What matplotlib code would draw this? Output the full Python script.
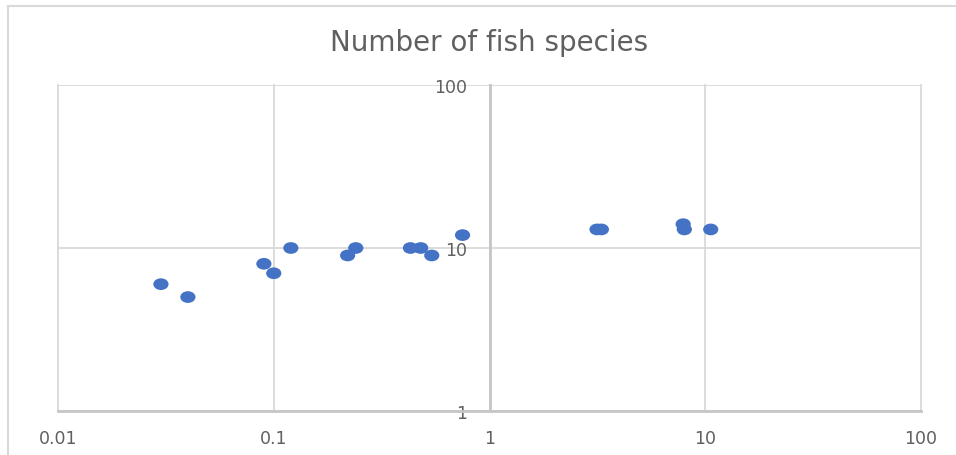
import numpy as np
import matplotlib.pyplot as plt
from matplotlib.path import Path
from matplotlib.lines import Line2D

# data (log-log scatter)
area = [0.03, 0.04, 0.09, 0.1, 0.12, 0.22, 0.24, 0.43, 0.48, 0.54, 0.75,
        3.15, 3.3, 7.9, 8.0, 10.6]
species = [6, 5, 8, 7, 10, 9, 10, 10, 10, 9, 12, 13, 13, 14, 13, 13]
x_ticks = [0.01, 0.1, 1, 10, 100]
x_labels = ['0.01', '0.1', '1', '10', '100']
y_ticks = [1, 10, 100]
y_labels = ['1', '10', '100']

W, H = 956, 456
fig = plt.figure(figsize=(W / 100, H / 100), dpi=100)
fig.patch.set_facecolor('white')

# outer chart border, only top and left show in the screenshot
bx, by = 8 / W, 1 - 7 / H
fig.add_artist(Line2D([bx, bx], [0, by], transform=fig.transFigure, color='#D9D9D9', lw=1.5))
fig.add_artist(Line2D([bx, 1], [by, by], transform=fig.transFigure, color='#D9D9D9', lw=1.5))

ax = fig.add_axes([58 / W, 1 - 412 / H, (921 - 58) / W, (412 - 86) / H])
ax.set_xscale('log')
ax.set_yscale('log')
ax.set_xlim(0.01, 100)
ax.set_ylim(1, 100)

ax.set_xticks(x_ticks)
ax.set_xticklabels(x_labels)
ax.set_yticks(y_ticks)
ax.set_yticklabels(y_labels)
ax.minorticks_off()

ax.grid(True, color='#D9D9D9', lw=1.3)
for ln in ax.get_xgridlines() + ax.get_ygridlines():
    ln.set_clip_on(False)
ax.set_axisbelow(True)

for s in ['top', 'right']:
    ax.spines[s].set_visible(False)
ax.spines['left'].set_position(('data', 1))
for s in ['left', 'bottom']:
    ax.spines[s].set_color('#C6C6C6')
    ax.spines[s].set_linewidth(2)

ax.tick_params(axis='both', length=0, labelsize=12.5, labelcolor='#606060')
ax.tick_params(axis='y', pad=16)
ax.tick_params(axis='x', pad=13)

# slightly wide ellipse markers, like the stretched screenshot
circ = Path.unit_circle()
ell = Path(circ.vertices * np.array([1.3, 1.0]), circ.codes)
ax.scatter(area, species, marker=ell, s=120, color='#4472C4', edgecolors='none',
           zorder=3, clip_on=False)

fig.text(489 / W, 1 - 43 / H, 'Number of fish species', ha='center', va='center',
         fontsize=20, color='#606060')

fig.savefig('out.png', dpi=100)
